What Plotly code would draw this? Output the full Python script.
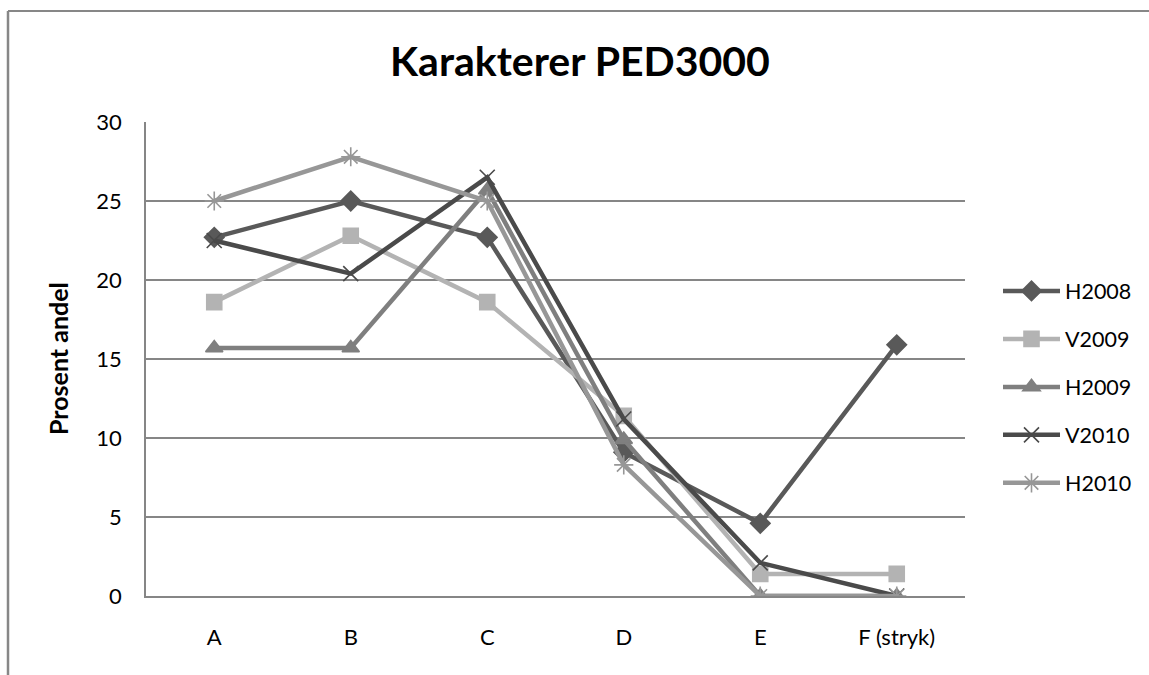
import plotly.graph_objects as go

categories = ["A", "B", "C", "D", "E", "F (stryk)"]
series_names = ["H2008", "V2009", "H2009", "V2010", "H2010"]
h2008 = [22.7, 25.0, 22.7, 9.1, 4.6, 15.9]
v2009 = [18.6, 22.8, 18.6, 11.4, 1.4, 1.4]
h2009 = [15.7, 15.7, 25.7, 9.9, 0.0, 0.0]
v2010 = [22.5, 20.4, 26.5, 11.2, 2.1, 0.0]
h2010 = [25.0, 27.8, 25.0, 8.3, 0.0, 0.0]
y_ticks = [0, 5, 10, 15, 20, 25, 30]

values = [h2008, v2009, h2009, v2010, h2010]
colors = ["#595959", "#b3b3b3", "#7f7f7f", "#4a4a4a", "#979797"]
symbols = ["diamond", "square", "triangle-up", "x-thin-open", "asterisk-open"]
msizes = [15, 15, 15, 15, 16]

FONT = "Lato"

fig = go.Figure()
for i, (name, vals) in enumerate(zip(series_names, values)):
    fig.add_trace(go.Scatter(
        x=categories, y=vals, name=name, mode="lines+markers",
        line=dict(color=colors[i], width=4.5),
        marker=dict(symbol=symbols[i], size=msizes[i], color=colors[i],
                    line=dict(color=colors[i], width=1.6)),
        legendgroup=name,
    ))

L, R, T, B = 146, 184, 122, 79
W, H = 1149, 675
pw = W - L - R
ph = H - T - B

def px2x(px):
    return (px - L) / pw

def py2y(py):
    return (H - B - py) / ph

fig.update_layout(
    width=W, height=H,
    margin=dict(l=L, r=R, t=T, b=B, pad=0),
    paper_bgcolor="white", plot_bgcolor="white",
    font=dict(family=FONT, color="#000000"),
    title=dict(text="<b>Karakterer PED3000</b>", x=580 / W, xanchor="center",
               y=1 - 62 / H, yanchor="middle", yref="container",
               font=dict(size=41, family=FONT, color="#000000")),
    xaxis=dict(type="category", range=[-0.5, 5.5], showgrid=False,
               showline=True, linecolor="#868686", linewidth=1.5,
               ticks="", tickfont=dict(size=22, family=FONT),
               ticklabelstandoff=21, zeroline=False, fixedrange=True),
    yaxis=dict(range=[0, 30], tickvals=y_ticks, showgrid=True,
               gridcolor="#868686", gridwidth=1.5, showline=True,
               linecolor="#868686", linewidth=1.5, ticks="",
               tickfont=dict(size=22, family=FONT), ticklabelstandoff=18,
               zeroline=False, fixedrange=True),
    legend=dict(x=px2x(998), xanchor="left", y=py2y(387), yanchor="middle",
                font=dict(size=21.5, family=FONT), tracegroupgap=17,
                itemwidth=57, bgcolor="rgba(0,0,0,0)"),
    showlegend=True,
    annotations=[dict(text="<b>Prosent andel</b>", x=px2x(58), y=0.5,
                      xref="paper", yref="paper", xanchor="center",
                      yanchor="middle", textangle=-90, showarrow=False,
                      font=dict(size=25, family=FONT, color="#000000"))],
    shapes=[
        dict(type="line", xref="paper", yref="paper", x0=px2x(8), x1=px2x(1200),
             y0=py2y(11), y1=py2y(11), line=dict(color="#878787", width=2)),
        dict(type="line", xref="paper", yref="paper", x0=px2x(8), x1=px2x(8),
             y0=py2y(11), y1=py2y(700), line=dict(color="#878787", width=2.5)),
    ],
)

fig.write_html("out.html", config={"displayModeBar": False},
               post_script="document.body.style.margin='0px';document.body.style.overflow='hidden';")
